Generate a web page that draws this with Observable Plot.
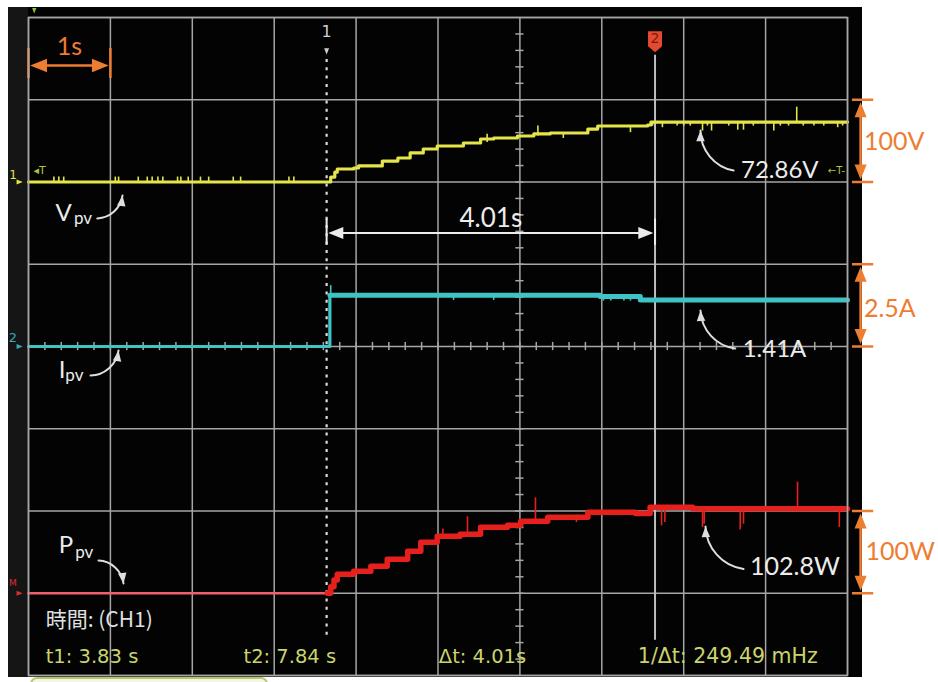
<!DOCTYPE html>
<html>
<head>
<meta charset="utf-8">
<script src="https://cdn.jsdelivr.net/npm/d3@7"></script>
<script src="https://cdn.jsdelivr.net/npm/@observablehq/plot@0.6"></script>
<style>
  html, body { margin: 0; padding: 0; background: #fff; }
  #scope { position: relative; width: 938px; height: 682px; overflow: hidden; }
  .bezel { position: absolute; left: 8px; top: 7px; width: 854px; height: 670px; background: #030303; }
  .bezel-left { position: absolute; left: 8px; top: 7px; width: 20px; height: 670px; background: #151515; }
  .tab { position: absolute; left: 30px; top: 677px; width: 238px; height: 20px; border: 2px solid #bcc56c; border-radius: 7px; box-sizing: border-box; background: #f4f6e4; }
  #scope svg { position: absolute; left: 0; top: 0; }
</style>
</head>
<body>
<div id="scope"><div class="bezel"></div><div class="bezel-left"></div><div class="tab"></div></div>
<script>
// ---- time base (1 s/div, 10 divisions) and cursors ----
const timeStart = 0.19;          // s at the left edge of the graticule
const cursorTimes = [3.83, 7.84]; // t1, t2 (s)

// ---- PV voltage, 100 V/div ----
const vpvTime  = [0.19, 3.83, 3.88, 3.93, 3.96, 4.16, 4.22, 4.51, 4.70, 4.85, 5.01, 5.18, 5.50, 5.71, 5.87, 6.16, 6.36, 6.56, 7.02, 7.14, 7.75, 7.79, 10.19];
const vpvVolts = [0, 0, 6, 12, 15.8, 17, 19.5, 25.5, 29.2, 35.3, 40.1, 43.8, 47.4, 52.3, 53.5, 55.9, 58.4, 59.6, 64.4, 68.1, 69.3, 72.86, 72.86];
// glitches: [time, from, to]
const vpvGlitches = [
  [0.50, 0, 6], [0.56, 0, 6], [0.62, 0, 6], [1.25, 0, 6], [1.29, 0, 6], [1.53, 0, 6], [1.64, 0, 6],
  [1.70, 0, 6], [1.77, 0, 6], [1.83, 0, 6], [2.01, 0, 6], [2.05, 0, 6], [2.14, 0, 6], [2.29, 0, 6],
  [2.39, 0, 6], [2.69, 0, 6], [2.78, 0, 6], [3.37, 0, 6], [3.43, 0, 6],
  [5.79, 48, 58], [6.41, 56, 68], [6.72, 60, 53], [7.54, 66, 60], [7.93, 72.9, 66],
  [7.81, 72.9, 68], [8.11, 72.9, 68], [8.19, 72.9, 68], [8.27, 72.9, 68], [8.42, 72.9, 62],
  [8.48, 72.9, 68], [8.53, 72.9, 62], [8.74, 72.9, 68], [8.85, 72.9, 63], [8.92, 72.9, 63],
  [9.04, 72.9, 68], [9.29, 72.9, 62], [9.37, 72.9, 68], [9.47, 72.9, 68], [9.57, 72.9, 91],
  [9.65, 72.9, 68], [9.78, 72.9, 68], [9.90, 72.9, 68], [10.07, 72.9, 66], [10.13, 72.9, 68]
];

// ---- PV current, 2.5 A/div ----
const ipvTime = [0.19, 3.87, 7.17, 7.66, 10.19];
const ipvAmps = [0, 1.56, 1.52, 1.41, 1.41];
const ipvGlitches = [
  [3.88, 1.56, 1.85], [5.38, 1.56, 1.40], [5.87, 1.56, 1.40], [7.21, 1.52, 1.38],
  [7.30, 1.52, 1.38], [7.46, 1.52, 1.38], [7.54, 1.52, 1.38]
];

// ---- PV power (math channel), 100 W/div ----
const ppvTime  = [0.19, 3.84, 3.88, 3.92, 3.96, 4.16, 4.37, 4.57, 4.82, 4.98, 5.18, 5.46, 5.71, 6.04, 6.20, 6.53, 7.02, 7.60, 7.78, 8.30, 10.19];
const ppvWatts = [0, 0, 8, 16, 23, 26.7, 32.8, 41.3, 51, 62, 69.3, 71.7, 80.2, 82.7, 87.5, 92.4, 98.5, 97, 104.5, 102.8, 102.8];
const ppvGlitches = [
  [5.25, 70, 78], [5.55, 72, 93], [6.38, 87.5, 116], [6.88, 95, 86], [9.58, 103, 135],
  [7.92, 104, 82], [7.96, 104, 86], [8.42, 103, 80], [8.44, 103, 84], [8.88, 103, 77],
  [8.92, 103, 84], [10.09, 103, 80]
];

// ---- text ----
const scaleLabels = ["100V", "2.5A", "100W"];
const timeDivLabel = "1s";
const readoutTitle = "時間: (CH1)";
const readoutFreq = "1/Δt: 249.49 mHz";

// channel placement on the 8-division screen
const channels = {
  vpv: {zero: 6, perDiv: 100, color: "#e3e54a"},
  ipv: {zero: 4, perDiv: 2.5, color: "#3fc3c5"},
  ppv: {zero: 1, perDiv: 100, color: "#e6201d"}
};
const toDiv = (ch, v) => channels[ch].zero + v / channels[ch].perDiv;
const series = (ch, ts, vs) => ts.map((t, i) => ({t, y: toDiv(ch, vs[i])}));
const spikes = (ch, rows) => rows.map(([t, a, b]) => ({t, y1: toDiv(ch, a), y2: toDiv(ch, b)}));

const vpv = series("vpv", vpvTime, vpvVolts);
const ipv = series("ipv", ipvTime, ipvAmps);
const ppv = series("ppv", ppvTime, ppvWatts);
const [t1, t2] = cursorTimes;
const dt = t2 - t1;

// graticule
const gridT = d3.range(11).map(i => timeStart + i);
const gridY = d3.range(9);
const minorT = d3.range(1, 50).map(i => timeStart + i * 0.2);
const minorY = d3.range(1, 40).map(i => i * 0.2);
const tickAxisT = timeStart + 6;

// filled arrow head, tip at the origin pointing up
const head = {draw(ctx, size) { const s = Math.sqrt(size); ctx.moveTo(0, 0); ctx.lineTo(s * 0.4, s); ctx.lineTo(-s * 0.4, s); ctx.closePath(); }};
// cursor flag
const flag = {draw(ctx) { ctx.moveTo(-7, -11); ctx.lineTo(7, -11); ctx.lineTo(7, 4); ctx.lineTo(0, 10); ctx.lineTo(-7, 4); ctx.closePath(); }};

const orange = "#ed7d31";
const white = "#ececec";
const pointer = "#dedede";
const scopeText = "#cad36c";
const gridColor = "#a6a6a6";

// orange one-division brackets at the right edge
const bx = 10.35, bx1 = 10.25, bx2 = 10.51;
const bracket = (ch) => {
  const lo = channels[ch].zero, hi = lo + 1;
  return [
    Plot.ruleX([bx], {y1: lo + 0.1, y2: hi - 0.1, stroke: orange, strokeWidth: 2.5}),
    Plot.ruleY([lo, hi], {x1: bx1, x2: bx2, stroke: orange, strokeWidth: 2.5}),
    Plot.dot([hi], {x: bx, y: d => d - 0.03, symbol: head, r: 8.5, fill: orange, stroke: null}),
    Plot.dot([lo], {x: bx, y: d => d + 0.03, symbol: head, r: 8.5, rotate: 180, fill: orange, stroke: null})
  ];
};
const label = (text, x, y, opts = {}) =>
  Plot.text([text], {x, y, text: d => d, textAnchor: "start", lineAnchor: "middle", fontFamily: "Lato", fontSize: 24, fill: white, ...opts});
// curved pointer with a filled head turned along its arrival direction
const pointerArrow = (x1, y1, x2, y2, bend, turn) => [
  Plot.arrow([0], {x1, y1, x2, y2, bend, stroke: pointer, strokeWidth: 2, headLength: 0}),
  Plot.dot([0], {x: x2, y: y2, symbol: head, r: 6, rotate: turn, fill: pointer, stroke: null})
];

const chart = Plot.plot({
  width: 938,
  height: 682,
  marginLeft: 28,
  marginRight: 91,
  marginTop: 17,
  marginBottom: 7,
  style: {background: "transparent", fontFamily: "Lato"},
  x: {domain: [timeStart, timeStart + 10], axis: null},
  y: {domain: [0, 8], axis: null},
  marks: [
    // graticule
    Plot.ruleX(gridT, {stroke: gridColor, strokeWidth: 1.5}),
    Plot.ruleY(gridY, {stroke: gridColor, strokeWidth: 1.5}),
    Plot.ruleX(minorT, {y1: 3.95, y2: 4.05, stroke: gridColor, strokeWidth: 1.5}),
    Plot.ruleY(minorY, {x1: tickAxisT - 0.05, x2: tickAxisT + 0.05, stroke: gridColor, strokeWidth: 1.5}),

    // cursors
    Plot.ruleX([t1], {y1: 0.49, y2: 7.5, stroke: "#dcdcdc", strokeWidth: 2.2, strokeDasharray: "3,5.3"}),
    Plot.ruleX([t2], {y1: 0.43, y2: 7.54, stroke: "#bdbdbd", strokeWidth: 2}),
    Plot.text(["1"], {x: t1, y: 7.83, text: d => d, fontFamily: "DejaVu Sans", fontSize: 16, fill: "#cfcfcf"}),
    Plot.dot([t1], {x: d => d, y: 7.55, symbol: head, r: 3.5, rotate: 180, fill: "#cfcfcf", stroke: null}),
    Plot.dot([t2], {x: d => d, y: 7.70, symbol: flag, fill: "#e44a2f", stroke: null}),
    Plot.text(["2"], {x: t2, y: 7.74, text: d => d, fontFamily: "DejaVu Sans", fontSize: 14, fill: "#7c1a10"}),

    // traces
    Plot.ruleX(spikes("vpv", vpvGlitches), {x: "t", y1: "y1", y2: "y2", stroke: channels.vpv.color, strokeWidth: 1.6}),
    Plot.line(vpv, {x: "t", y: "y", curve: "step-after", stroke: channels.vpv.color, strokeWidth: 3.2}),
    Plot.ruleX(spikes("ipv", ipvGlitches), {x: "t", y1: "y1", y2: "y2", stroke: channels.ipv.color, strokeWidth: 1.6}),
    Plot.line(ipv.filter(d => d.t < 3.88), {x: "t", y: "y", curve: "step-after", stroke: channels.ipv.color, strokeWidth: 3}),
    Plot.line(ipv.filter(d => d.t >= 3.87), {x: "t", y: "y", curve: "step-after", stroke: channels.ipv.color, strokeWidth: 5}),
    Plot.ruleX([ipvTime[1]], {y1: toDiv("ipv", 0), y2: toDiv("ipv", ipvAmps[1]), stroke: channels.ipv.color, strokeWidth: 2.5}),
    Plot.ruleX(spikes("ppv", ppvGlitches), {x: "t", y1: "y1", y2: "y2", stroke: channels.ppv.color, strokeWidth: 1.6}),
    Plot.line(ppv.filter(d => d.t <= 3.84), {x: "t", y: "y", curve: "step-after", stroke: "#f0606c", strokeWidth: 2.5}),
    Plot.line(ppv.filter(d => d.t >= 3.84), {x: "t", y: "y", curve: "step-after", stroke: channels.ppv.color, strokeWidth: 5.5}),

    // channel and trigger markers
    Plot.text(["1"], {x: 0.0, y: toDiv("vpv", 0) + 0.08, text: d => d, fontFamily: "DejaVu Sans", fontSize: 12, fill: channels.vpv.color}),
    Plot.dot([0], {x: 0.12, y: toDiv("vpv", 0), symbol: head, r: 3.5, rotate: 90, fill: channels.vpv.color, stroke: null}),
    Plot.text(["2"], {x: 0.0, y: toDiv("ipv", 0) + 0.1, text: d => d, fontFamily: "DejaVu Sans", fontSize: 13, fill: "#3aa8b8"}),
    Plot.dot([0], {x: 0.12, y: toDiv("ipv", 0), symbol: head, r: 3.5, rotate: 90, fill: "#3aa8b8", stroke: null}),
    Plot.text(["M"], {x: 0.0, y: toDiv("ppv", 0) + 0.12, text: d => d, fontFamily: "DejaVu Sans", fontSize: 9, fill: "#d83030"}),
    Plot.dot([0], {x: 0.12, y: toDiv("ppv", 0), symbol: head, r: 3.5, rotate: 90, fill: "#d83030", stroke: null}),
    Plot.text(["◂T"], {x: 0.25, y: 6.14, text: d => d, textAnchor: "start", fontFamily: "DejaVu Sans", fontSize: 11, fill: "#a9c83a"}),
    Plot.text(["←T-"], {x: 9.95, y: 6.14, text: d => d, textAnchor: "start", fontFamily: "DejaVu Sans", fontSize: 10, fill: "#a9c83a"}),
    Plot.dot([0], {x: 0.26, y: 8.05, symbol: head, r: 3, rotate: 180, fill: "#8cc83a", stroke: null}),

    // 1 s/div marker
    Plot.ruleY([7.416], {x1: timeStart + 0.1, x2: timeStart + 0.9, stroke: orange, strokeWidth: 2.5}),
    Plot.ruleX([timeStart, timeStart + 1], {y1: 7.258, y2: 7.623, stroke: orange, strokeWidth: 2.5}),
    Plot.dot([timeStart], {x: d => d + 0.02, y: 7.416, symbol: head, r: 9.5, rotate: -90, fill: orange, stroke: null}),
    Plot.dot([timeStart + 1], {x: d => d - 0.02, y: 7.416, symbol: head, r: 9.5, rotate: 90, fill: orange, stroke: null}),
    label(timeDivLabel, timeStart + 0.5, 7.64, {textAnchor: "middle", fill: orange, fontSize: 25}),

    // per-division brackets
    ...bracket("vpv"), ...bracket("ipv"), ...bracket("ppv"),
    label(scaleLabels[0], 10.39, 6.49, {fill: orange, fontSize: 25}),
    label(scaleLabels[1], 10.39, 4.45, {fill: orange, fontSize: 25}),
    label(scaleLabels[2], 10.41, 1.50, {fill: orange, fontSize: 25}),

    // cursor interval
    Plot.ruleY([5.38], {x1: t1 + 0.1, x2: t2 - 0.1, stroke: white, strokeWidth: 2}),
    Plot.ruleX([t1, t2], {y1: 5.23, y2: 5.55, stroke: white, strokeWidth: 2}),
    Plot.dot([t1], {x: d => d + 0.02, y: 5.38, symbol: head, r: 8.5, rotate: -90, fill: white, stroke: null}),
    Plot.dot([t2], {x: d => d - 0.02, y: 5.38, symbol: head, r: 8.5, rotate: 90, fill: white, stroke: null}),
    label(`${dt.toFixed(2)}s`, (t1 + t2) / 2, 5.56, {textAnchor: "middle", fontSize: 26}),

    // trace names
    label("V", 0.52, 5.625),
    label("pv", 0.745, 5.56, {fontSize: 17}),
    ...pointerArrow(1.03, 5.556, 1.338, 5.836, -40, 7),
    label("I", 0.56, 3.705),
    label("pv", 0.64, 3.65, {fontSize: 17}),
    ...pointerArrow(0.947, 3.647, 1.289, 3.951, -40, 8),
    label("P", 0.56, 1.577),
    label("pv", 0.76, 1.49, {fontSize: 17}),
    ...pointerArrow(1.045, 1.398, 1.350, 1.119, 40, 173),

    // measured values
    label(`${vpvVolts.at(-1)}V`, 8.89, 6.14),
    ...pointerArrow(8.80, 6.14, 8.395, 6.626, 40, 0),
    label(`${ipvAmps.at(-1)}A`, 8.91, 3.97),
    ...pointerArrow(8.82, 3.976, 8.395, 4.438, 40, -3),
    label(`${ppvWatts.at(-1)}W`, 9.00, 1.325, {fontSize: 25}),
    ...pointerArrow(8.92, 1.295, 8.456, 1.812, 40, -2),

    // cursor readout
    label(readoutTitle, 0.40, 0.67, {fontFamily: "Noto Sans CJK TC", fontSize: 21, fill: "#e0e0e0"}),
    label(`t1: ${t1.toFixed(2)} s`, 0.40, 0.23, {fontFamily: "DejaVu Sans", fontSize: 19.5, fill: scopeText}),
    label(`t2: ${t2.toFixed(2)} s`, 2.815, 0.23, {fontFamily: "DejaVu Sans", fontSize: 19.5, fill: scopeText}),
    label(`Δt: ${dt.toFixed(2)}s`, 5.20, 0.23, {fontFamily: "DejaVu Sans", fontSize: 19.5, fill: scopeText}),
    label(readoutFreq, 7.63, 0.23, {fontFamily: "DejaVu Sans", fontSize: 20.5, fill: scopeText}),

    Plot.frame({stroke: gridColor, strokeWidth: 1.5})
  ]
});

document.getElementById("scope").appendChild(chart);
</script>
</body>
</html>
